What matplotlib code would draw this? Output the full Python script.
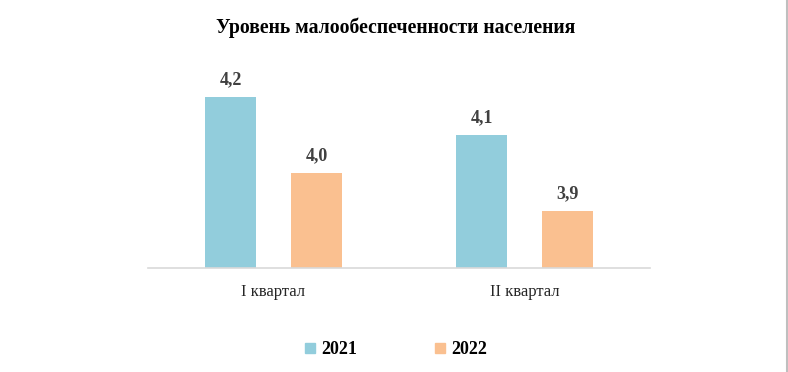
import matplotlib
matplotlib.use("Agg")
import matplotlib.pyplot as plt
from matplotlib.lines import Line2D
import numpy as np

categories = ["I квартал", "II квартал"]
series_names = ["2021", "2022"]
values_2021 = [4.2, 4.1]
values_2022 = [4.0, 3.9]
colors = ["#92CDDC", "#FAC090"]

plt.rcParams['font.family'] = ['Liberation Serif', 'DejaVu Serif']

fig = plt.figure(figsize=(7.88, 3.72), dpi=100)
ax = fig.add_axes([148/788, 1-268/372, 502/788, 209/372])

x = np.arange(len(categories))
w = 0.2
off = 0.171
b1 = ax.bar(x - off, values_2021, w, color=colors[0], bottom=0)
b2 = ax.bar(x + off, values_2022, w, color=colors[1], bottom=0)

ax.set_ylim(3.75, 4.3)
ax.set_xlim(-0.5, 1.5)

for bars, vals in ((b1, values_2021), (b2, values_2022)):
    for r, v in zip(bars, vals):
        ax.annotate(f"{v:.1f}".replace(".", ","),
                    (r.get_x() + r.get_width()/2, v),
                    xytext=(0, 6.5), textcoords="offset points",
                    ha="center", va="bottom", fontsize=13, fontweight="bold",
                    color="#404040")

for s in ["top", "right", "left"]:
    ax.spines[s].set_visible(False)
ax.spines["bottom"].set_color("#D9D9D9")
ax.spines["bottom"].set_linewidth(1.2)
ax.set_yticks([])
ax.set_xticks(x)
ax.set_xticklabels(categories, fontsize=12, color="#262626")
ax.tick_params(axis="x", length=0, pad=11.5)

fig.text(0.502, 1-27.5/372, "Уровень малообеспеченности населения",
         ha="center", va="center", fontsize=14.2, fontweight="bold", color="black")

handles = [Line2D([0], [0], marker="s", linestyle="none", markersize=7,
                  markerfacecolor=c, markeredgecolor=c) for c in colors]
leg = fig.legend(handles, series_names, loc="center", bbox_to_anchor=(0.5, 1-350/372),
                 ncol=2, frameon=False, prop={"size": 13, "weight": "bold"},
                 handletextpad=0.1, columnspacing=4.1, handlelength=1.0)

fig.add_artist(Line2D([786.5/788, 786.5/788], [0, 1], color="#BFBFBF", linewidth=1.5,
                      transform=fig.transFigure))

fig.savefig("out.png", dpi=100)
